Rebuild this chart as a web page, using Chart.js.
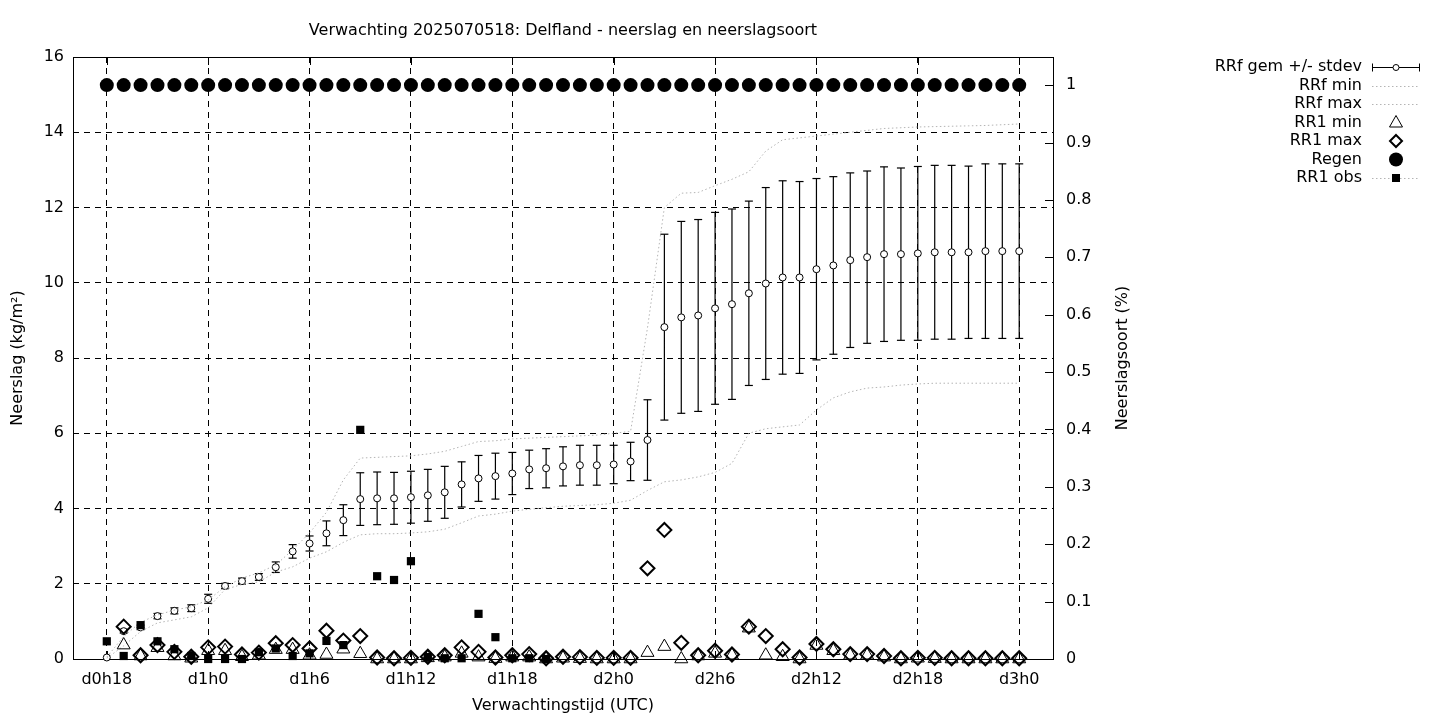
<!DOCTYPE html>
<html>
<head>
<meta charset="utf-8">
<script src="https://cdn.jsdelivr.net/npm/chart.js@4/dist/chart.umd.min.js"></script>
<style>
  html, body { margin: 0; padding: 0; background: #fff; }
  #wrap { width: 1440px; height: 720px; }
</style>
</head>
<body>
<div id="wrap"><canvas id="c" width="1440" height="720"></canvas></div>
<script>
// forecast hours since d0h18
const hours = [0,1,2,3,4,5,6,7,8,9,10,11,12,13,14,15,16,17,18,19,20,21,22,23,24,25,26,27,
  28,29,30,31,32,33,34,35,36,37,38,39,40,41,42,43,44,45,46,47,48,49,50,51,52,53,54];
const tickHours = [0, 6, 12, 18, 24, 30, 36, 42, 48, 54];
const tickLabels = ["d0h18", "d1h0", "d1h6", "d1h12", "d1h18", "d2h0", "d2h6", "d2h12", "d2h18", "d3h0"];
const y2Ticks = [0, 0.1, 0.2, 0.3, 0.4, 0.5, 0.6, 0.7, 0.8, 0.9, 1];

const rrfMean = [0.04,0.74,0.84,1.14,1.28,1.35,1.60,1.94,2.07,2.18,2.44,2.86,3.07,3.34,3.69,
  4.25,4.27,4.27,4.30,4.35,4.43,4.64,4.80,4.86,4.93,5.04,5.07,5.12,5.15,5.15,5.17,5.25,5.82,
  8.82,9.08,9.13,9.32,9.43,9.72,9.98,10.14,10.14,10.36,10.46,10.60,10.68,10.76,10.76,10.78,
  10.81,10.81,10.81,10.84,10.84,10.84];
const rrfStdev = [0,0.05,0.06,0.07,0.08,0.09,0.12,0.07,0.08,0.09,0.14,0.18,0.20,0.33,0.41,
  0.70,0.70,0.69,0.69,0.69,0.69,0.60,0.61,0.61,0.56,0.51,0.52,0.52,0.53,0.53,0.51,0.51,1.07,
  2.47,2.55,2.55,2.55,2.53,2.45,2.55,2.57,2.55,2.41,2.36,2.32,2.29,2.32,2.29,2.31,
  2.31,2.31,2.29,2.32,2.32,2.32];
const rrfMin = [0.02,0.35,0.73,0.96,1.04,1.12,1.36,1.85,1.98,2.05,2.31,2.45,2.68,2.85,3.10,
  3.30,3.33,3.33,3.35,3.38,3.45,3.62,3.80,3.85,3.93,3.98,4.02,4.06,4.08,4.10,4.14,4.22,4.48,
  4.71,4.76,4.84,4.96,5.20,6.00,6.12,6.17,6.22,6.62,6.94,7.10,7.20,7.23,7.28,7.31,
  7.33,7.33,7.33,7.33,7.33,7.33];
const rrfMax = [0.05,0.60,0.98,1.17,1.30,1.39,1.57,1.92,2.15,2.29,2.50,2.90,3.35,3.90,4.76,
  5.34,5.36,5.38,5.40,5.45,5.52,5.65,5.78,5.80,5.85,5.87,5.89,5.91,5.93,5.95,6.00,6.05,8.80,
  12.00,12.38,12.40,12.58,12.75,12.95,13.50,13.80,13.85,13.90,13.95,14.00,14.05,14.10,14.12,14.14,
  14.15,14.16,14.17,14.18,14.20,14.22];
const rr1Min = [null,0.37,0.08,0.30,0.08,0.02,0.22,0.22,0.06,0.10,0.25,0.25,0.10,0.12,0.26,
  0.14,0.00,0.00,0.00,0.03,0.05,0.15,0.05,0.01,0.05,0.05,0.00,0.02,0.01,0.00,0.00,0.00,0.17,
  0.33,0.00,0.08,0.15,0.10,0.82,0.10,0.06,0.00,0.36,0.22,0.10,0.10,0.05,0.00,0.02,
  0.01,0.00,0.00,0.00,0.00,0.00];
const rr1Max = [null,0.86,0.10,0.37,0.19,0.06,0.31,0.33,0.12,0.17,0.42,0.37,0.28,0.75,0.49,
  0.61,0.04,0.02,0.03,0.06,0.10,0.31,0.19,0.04,0.10,0.13,0.02,0.06,0.05,0.03,0.03,0.03,2.41,
  3.43,0.43,0.10,0.22,0.12,0.86,0.61,0.26,0.04,0.40,0.26,0.13,0.13,0.08,0.02,0.03,
  0.03,0.02,0.02,0.02,0.02,0.02];
const regen = [1,1,1,1,1,1,1,1,1,1,1,1,1,1,1,1,1,1,1,1,1,1,1,1,1,1,1,1,
  1,1,1,1,1,1,1,1,1,1,1,1,1,1,1,1,1,1,1,1,1,1,1,1,1,1,1];
const rr1Obs = [0.47,0.08,0.90,0.47,0.26,0.08,0.00,0.00,0.00,0.18,0.28,0.08,0.15,0.48,0.37,
  6.09,2.20,2.10,2.60,0.05,0.02,0.02,1.20,0.58,0.02,0.02,0.00,null,null,null,null,null,null,
  null,null,null,null,null,null,null,null,null,null,null,null,null,null,null,null,
  null,null,null,null,null,null];

const FONT = "DejaVu Sans";
const FS = 16;
const GRAY = "#b4b4b4";

const pts = arr => hours.map((h, i) => ({ x: h, y: arr[i] }));

// vertical stdev segments, broken by gaps
const errSegs = [];
const capPts = [];
hours.forEach((h, i) => {
  if (!rrfStdev[i]) return;
  errSegs.push({ x: h, y: rrfMean[i] - rrfStdev[i] }, { x: h, y: rrfMean[i] + rrfStdev[i] }, { x: h, y: null });
  capPts.push({ x: h, y: rrfMean[i] - rrfStdev[i] }, { x: h, y: rrfMean[i] + rrfStdev[i] });
});

const legendRows = ["RRf gem +/- stdev", "RRf min", "RRf max", "RR1 min", "RR1 max", "Regen", "RR1 obs"];

const frame = {
  id: "frame",
  beforeDatasetsDraw(chart) {
    const { ctx, chartArea: a, scales } = chart;
    ctx.save();
    ctx.strokeStyle = "#000";
    ctx.lineWidth = 1;
    ctx.beginPath();
    tickHours.forEach(h => {
      const px = Math.round(scales.x.getPixelForValue(h)) + 0.5;
      ctx.moveTo(px, a.bottom); ctx.lineTo(px, a.bottom - 8);
      ctx.moveTo(px, a.top); ctx.lineTo(px, a.top + 8);
    });
    y2Ticks.forEach(v => {
      const py = Math.round(scales.y2.getPixelForValue(v)) + 0.5;
      ctx.moveTo(a.right, py); ctx.lineTo(a.right - 8, py);
    });
    ctx.stroke();
    ctx.strokeRect(Math.round(a.left) + 0.5, Math.round(a.top) + 0.5,
      Math.round(a.right - a.left), Math.round(a.bottom - a.top));
    ctx.restore();
  },
  afterDraw(chart) {
    const { ctx, chartArea: a } = chart;
    const cx = (a.left + a.right) / 2;
    ctx.save();
    ctx.fillStyle = "#000";
    ctx.font = FS + "px '" + FONT + "'";
    ctx.textAlign = "center";
    ctx.textBaseline = "middle";
    ctx.fillText("Verwachting 2025070518: Delfland - neerslag en neerslagsoort", cx, 30.5);
    ctx.fillText("Verwachtingstijd (UTC)", cx, 706);
    ctx.save();
    ctx.translate(18, (a.top + a.bottom) / 2);
    ctx.rotate(-Math.PI / 2);
    ctx.fillText("Neerslag (kg/m²)", 0, 0);
    ctx.restore();
    ctx.save();
    ctx.translate(1123, (a.top + a.bottom) / 2);
    ctx.rotate(-Math.PI / 2);
    ctx.fillText("Neerslagsoort (%)", 0, 0);
    ctx.restore();

    // legend, gnuplot style: text right aligned, sample to the right
    ctx.textAlign = "right";
    const tx = 1362, sx0 = 1372, sx1 = 1420, mx = 1396;
    legendRows.forEach((label, i) => {
      const y = 67 + i * 18.5;
      ctx.fillStyle = "#000";
      ctx.fillText(label, tx, y);
      ctx.strokeStyle = "#000";
      ctx.lineWidth = 1;
      ctx.setLineDash([]);
      const ly = Math.round(y) + 0.5;
      if (i === 0) {
        ctx.beginPath();
        ctx.moveTo(sx0, ly); ctx.lineTo(sx1, ly);
        ctx.moveTo(sx0 + 0.5, ly - 4); ctx.lineTo(sx0 + 0.5, ly + 4);
        ctx.moveTo(sx1 - 0.5, ly - 4); ctx.lineTo(sx1 - 0.5, ly + 4);
        ctx.stroke();
        ctx.beginPath();
        ctx.arc(mx, ly, 3, 0, Math.PI * 2);
        ctx.fillStyle = "#fff"; ctx.fill(); ctx.stroke();
      } else if (i === 1 || i === 2 || i === 6) {
        ctx.strokeStyle = GRAY;
        ctx.setLineDash([1.5, 2.5]);
        ctx.beginPath();
        ctx.moveTo(sx0, ly); ctx.lineTo(sx1, ly);
        ctx.stroke();
        ctx.setLineDash([]);
        if (i === 6) {
          ctx.fillStyle = "#000";
          ctx.fillRect(mx - 4, ly - 4.5, 8, 8);
        }
      } else if (i === 3) {
        ctx.beginPath();
        ctx.moveTo(mx, y - 7); ctx.lineTo(mx + 6.5, y + 4.5); ctx.lineTo(mx - 6.5, y + 4.5);
        ctx.closePath(); ctx.stroke();
      } else if (i === 4) {
        ctx.lineWidth = 2;
        ctx.beginPath();
        ctx.moveTo(mx, y - 6); ctx.lineTo(mx + 6, y); ctx.lineTo(mx, y + 6); ctx.lineTo(mx - 6, y);
        ctx.closePath(); ctx.stroke();
      } else if (i === 5) {
        ctx.beginPath();
        ctx.arc(mx, y, 7, 0, Math.PI * 2);
        ctx.fillStyle = "#000"; ctx.fill();
      }
    });
    ctx.restore();
  }
};

const gridLines = { color: "#000", lineWidth: 1, drawTicks: false };
const tickFont = { family: FONT, size: FS };

new Chart(document.getElementById("c"), {
  type: "scatter",
  data: {
    datasets: [
      { label: "stdev", data: errSegs, showLine: true, spanGaps: false, borderColor: "#000",
        borderWidth: 1.2, pointRadius: 0, order: 10 },
      { label: "caps", data: capPts, pointStyle: "line", pointRadius: 4, borderColor: "#000",
        borderWidth: 1.2, clip: false, order: 9 },
      { label: "RRf gem +/- stdev", data: pts(rrfMean), pointStyle: "circle", pointRadius: 3.5,
        backgroundColor: "#fff", borderColor: "#000", borderWidth: 1, clip: false, order: 8 },
      { label: "RRf min", data: pts(rrfMin), showLine: true, borderColor: GRAY, borderWidth: 1,
        borderDash: [1.5, 2.5], pointRadius: 0, order: 7 },
      { label: "RRf max", data: pts(rrfMax), showLine: true, borderColor: GRAY, borderWidth: 1,
        borderDash: [1.5, 2.5], pointRadius: 0, order: 6 },
      { label: "RR1 min", data: pts(rr1Min), pointStyle: "triangle", pointRadius: 7.5,
        backgroundColor: "rgba(0,0,0,0)", borderColor: "#000", borderWidth: 1, clip: false, order: 5 },
      { label: "RR1 max", data: pts(rr1Max), pointStyle: "rectRot", pointRadius: 7,
        backgroundColor: "rgba(0,0,0,0)", borderColor: "#000", borderWidth: 2, clip: false, order: 4 },
      { label: "Regen", data: pts(regen), yAxisID: "y2", pointStyle: "circle", pointRadius: 7,
        backgroundColor: "#000", borderColor: "#000", borderWidth: 0, clip: false, order: 3 },
      { label: "RR1 obs", data: pts(rr1Obs), pointStyle: "rect", pointRadius: 5.8,
        backgroundColor: "#000", borderColor: "#000", borderWidth: 0, clip: false, order: 2 }
    ]
  },
  options: {
    responsive: false,
    animation: false,
    events: [],
    layout: { padding: { left: 0, top: 57, right: 297, bottom: 0 } },
    plugins: { legend: { display: false }, title: { display: false }, tooltip: { enabled: false } },
    scales: {
      x: {
        type: "linear", position: "bottom", min: -2, max: 56,
        grid: gridLines,
        border: { display: false, dash: [6, 5] },
        afterBuildTicks: s => { s.ticks = tickHours.map(v => ({ value: v })); },
        afterFit: s => { s.height = 61; },
        ticks: {
          font: tickFont, color: "#000", padding: 11, maxRotation: 0, autoSkip: false,
          callback: v => tickLabels[tickHours.indexOf(v)]
        }
      },
      y: {
        type: "linear", position: "left", min: 0, max: 16,
        grid: gridLines,
        border: { display: false, dash: [6, 5] },
        afterFit: s => { s.width = 73; },
        ticks: { stepSize: 2, font: tickFont, color: "#000", padding: 9 }
      },
      y2: {
        type: "linear", position: "right", min: 0, max: 1.049,
        grid: { display: false, drawTicks: false },
        border: { display: false },
        afterBuildTicks: s => { s.ticks = y2Ticks.map(v => ({ value: v })); },
        afterFit: s => { s.width = 90; },
        ticks: { font: tickFont, color: "#000", padding: 13, callback: v => String(v) }
      }
    }
  },
  plugins: [frame]
});
</script>
</body>
</html>
